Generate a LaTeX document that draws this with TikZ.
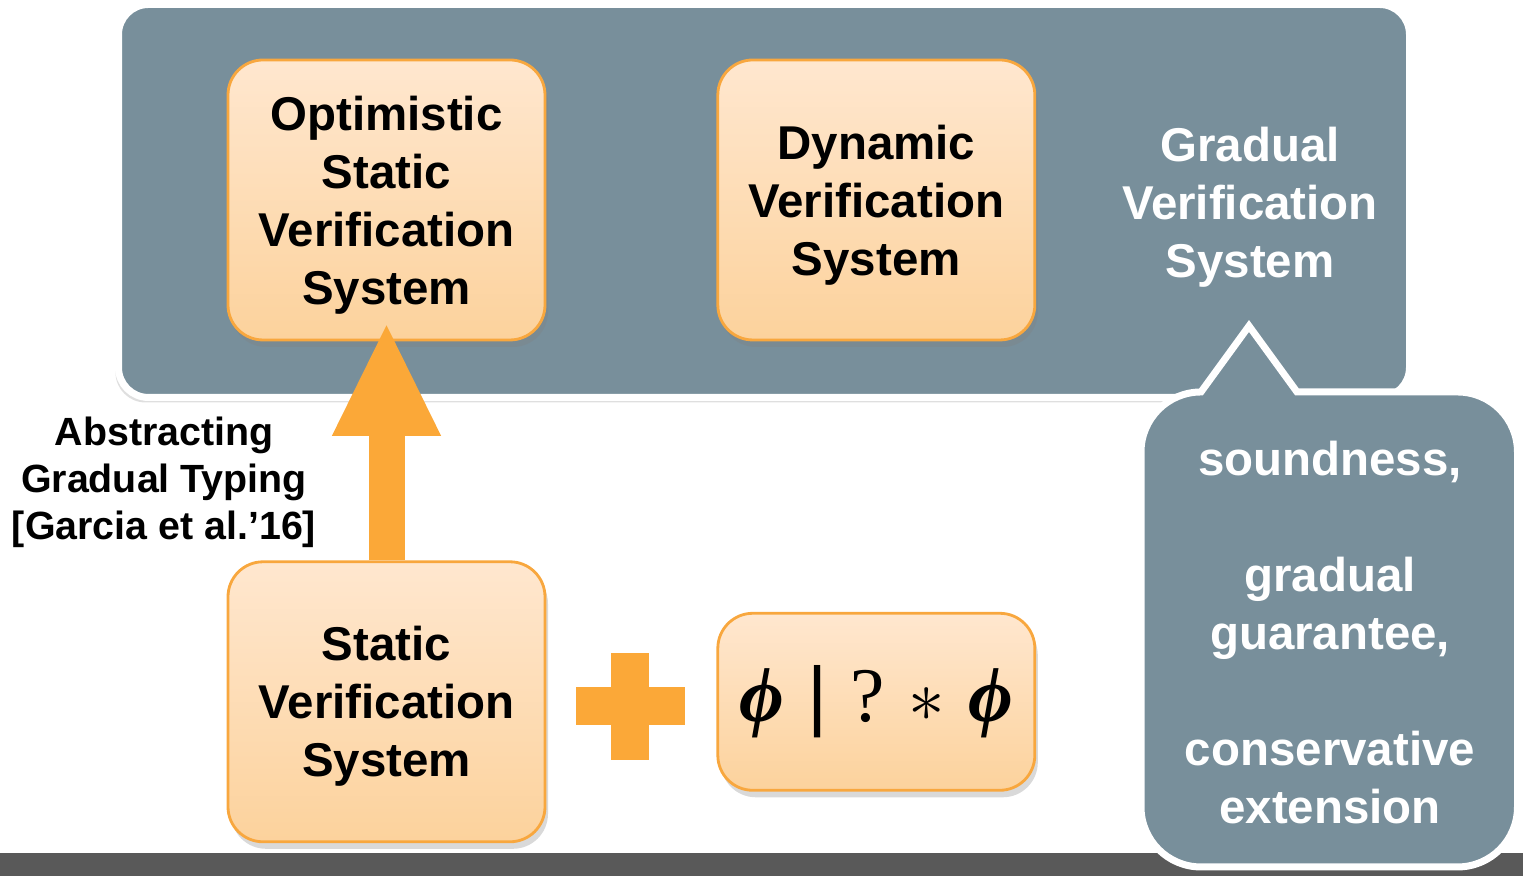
\documentclass[tikz,border=0pt]{standalone}
\usepackage{fontspec}
\setmainfont{Liberation Sans}
\newfontfamily\formulafont{Liberation Serif}
\usepackage{tikz}
\usetikzlibrary{positioning, arrows.meta, shadows}

\definecolor{slate}{RGB}{120,143,155}
\definecolor{boxedge}{RGB}{248,167,62}
\definecolor{boxtop}{RGB}{255,231,207}
\definecolor{boxbot}{RGB}{252,210,156}
\definecolor{arrowfill}{RGB}{251,168,56}
\definecolor{barcol}{RGB}{89,89,89}

\tikzset{
  node distance=1.7cm,
  panel/.style={fill=slate, draw=white, line width=0.07cm, rounded corners=0.3cm,
    inner sep=0pt, drop shadow={opacity=0.25, shadow xshift=-0.3mm, shadow yshift=-0.5mm}},
  sysbox/.style={draw=boxedge, line width=0.8pt, rounded corners=0.35cm,
    top color=boxtop, bottom color=boxbot, minimum width=3.17cm, minimum height=2.8cm,
    align=center, inner sep=0pt,
    font=\bfseries\fontsize{13.5}{16.5}\selectfont,
    drop shadow={opacity=0.3, shadow xshift=0.3mm, shadow yshift=-0.7mm}},
  lowtext/.style={text depth=-1.6pt},
  whitetext/.style={text=white, align=center, font=\bfseries\fontsize{13.5}{16.5}\selectfont},
  lift/.style={draw=arrowfill, line width=0.36cm,
    -{Triangle[width=1.0cm, length=1.14cm, fill=arrowfill]}},
}

\newcommand{\bphi}{{\bfseries\itshape ϕ}}

\begin{document}
\begin{tikzpicture}
  \useasboundingbox (0,0) rectangle (15.23,8.76);

  % strip along the bottom edge
  \fill[barcol] (0,0) rectangle (15.23,0.23);

  \node[panel, minimum width=12.91cm, minimum height=3.93cm] (panel) at (7.64,6.75) {};

  \node[sysbox, lowtext] (opt) at (3.865,6.76) {Optimistic\\Static\\Verification\\System};
  \node[sysbox, lowtext, right=of opt] (dyn) {Dynamic\\Verification\\System};
  \node[whitetext] (grad) at (12.5,6.69) {Gradual\\Verification\\System};

  \node[sysbox, lowtext, below=2.19cm of opt] (static) {Static\\Verification\\System};
  \node[sysbox, right=of static, minimum height=1.77cm,
        font=\formulafont\fontsize{22}{26}\selectfont] (form)
    {\bphi\hspace{0.3em}{\rmfamily|}\hspace{0.3em}?\hspace{0.3em}$\ast$\hspace{0.3em}\bphi};

  % plus sign between the two lower boxes
  \coordinate (plus) at (6.30,1.695);
  \fill[arrowfill] ([shift={(-0.545,-0.19)}]plus) rectangle ([shift={(0.545,0.19)}]plus);
  \fill[arrowfill] ([shift={(-0.19,-0.535)}]plus) rectangle ([shift={(0.19,0.535)}]plus);

  % upward arrow
  \coordinate (tip) at (3.865,5.54);
  \draw[lift] (static.north) -- (tip);
  \node[align=center, font=\bfseries\fontsize{11.2}{13.4}\selectfont] (cite) at (1.64,3.94)
    {Abstracting\\Gradual Typing\\{}[Garcia et al.’16]};

  % speech bubble with the properties
  \filldraw[fill=slate, draw=white, line width=0.07cm]
    (11.41,0.69) -- (11.41,4.24) arc[start angle=180, end angle=90, radius=0.6]
    -- (12.49,5.5) -- (12.97,4.84) -- (14.575,4.84)
    arc[start angle=90, end angle=0, radius=0.6] -- (15.175,0.69)
    arc[start angle=0, end angle=-90, radius=0.6] -- (12.01,0.09)
    arc[start angle=270, end angle=180, radius=0.6] -- cycle;
  \node[whitetext] (props) at (13.3,2.43)
    {soundness,\\[16.5pt]gradual\\guarantee,\\[16.5pt]conservative\\extension};
\end{tikzpicture}
\end{document}
